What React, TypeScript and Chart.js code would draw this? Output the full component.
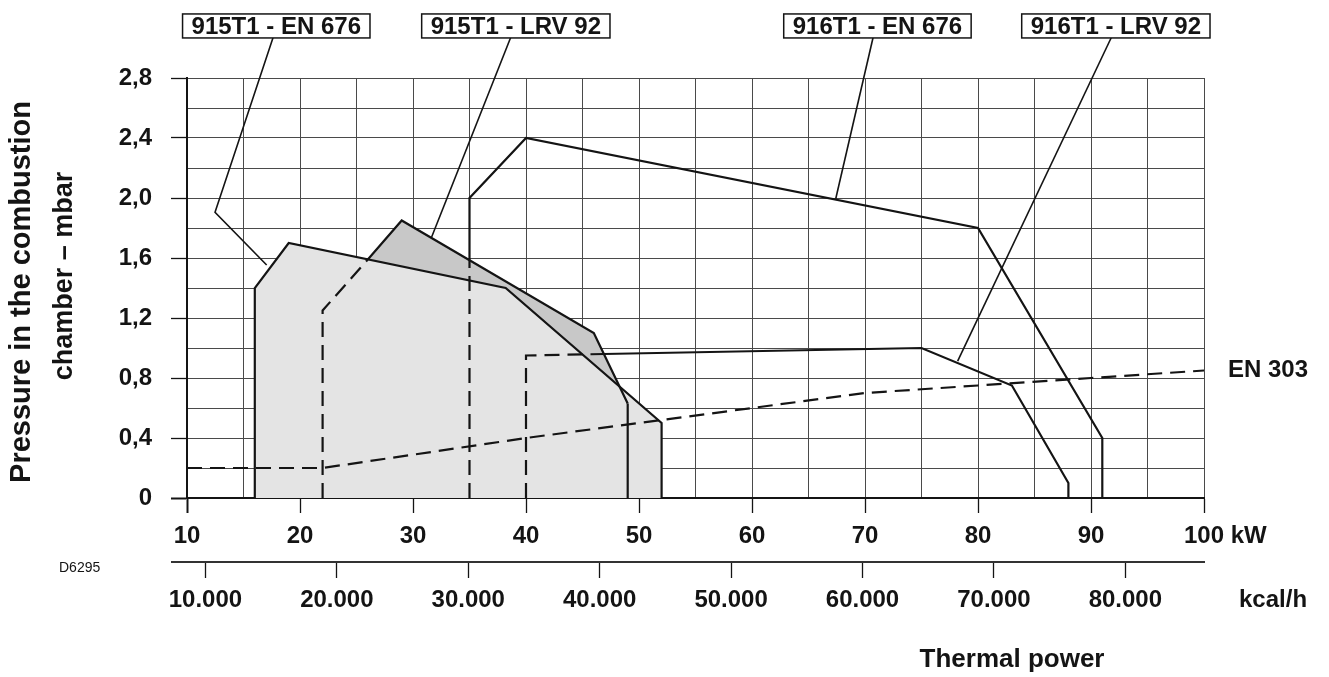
import React, { useEffect, useRef } from 'react';
import { Chart, registerables } from 'chart.js';

Chart.register(...registerables);

// ---------- data (kW on x, mbar on y) ----------
const KW_915_EN676 = [16, 16, 19, 38.2, 52, 52];
const P_915_EN676 = [0, 1.4, 1.7, 1.4, 0.5, 0];

const KW_915_LRV92 = [22, 22, 26, 29, 46, 49, 49];
const P_915_LRV92 = [0, 1.25, 1.59, 1.85, 1.1, 0.63, 0];
const DASH_915_LRV92 = [0, 1, 5];

const KW_916_EN676 = [35, 35, 35, 40, 80, 91, 91];
const P_916_EN676 = [0, 1.585, 2.0, 2.4, 1.8, 0.4, 0];
const DASH_916_EN676 = [0];

const KW_916_LRV92 = [40, 40, 46.9, 75, 83, 88, 88];
const P_916_LRV92 = [0, 0.95, 0.96, 1.0, 0.75, 0.1, 0];
const DASH_916_LRV92 = [0, 1];

const KW_EN303 = [10, 22, 40, 52, 70, 80, 90, 100];
const P_EN303 = [0.2, 0.2, 0.4, 0.52, 0.7, 0.75, 0.8, 0.85];

// curve labels (boxes above the plot) and their leader lines
const CURVE_LABELS = ['915T1 - EN 676', '915T1 - LRV 92', '916T1 - EN 676', '916T1 - LRV 92'];
const LABEL_KW = [17.9, 39.1, 71.1, 92.2];
const LABEL_P = [3.147, 3.147, 3.147, 3.147];
const LEADER_KW = [[17.64, 12.48, 17.05], [38.67, 31.65], [70.73, 67.41], [91.83, 78.2]];
const LEADER_P = [[3.075, 1.905, 1.553], [3.075, 1.74], [3.075, 1.995], [3.075, 0.913]];

// ticks
const KW_TICK_LABELS = ['10', '20', '30', '40', '50', '60', '70', '80', '90', '100'];
const P_TICK_LABELS = ['0', '0,4', '0,8', '1,2', '1,6', '2,0', '2,4', '2,8'];
const KCAL_TICK_VALUES = [10000, 20000, 30000, 40000, 50000, 60000, 70000, 80000];
const KCAL_TICK_LABELS = ['10.000', '20.000', '30.000', '40.000', '50.000', '60.000', '70.000', '80.000'];
const KCAL_PER_KW = 859.845;

const Y_TITLE = ['Pressure in the combustion', 'chamber \u2013 mbar'];
const X_TITLE = 'Thermal power';
const EN303_LABEL = 'EN 303';
const DRAWING_CODE = 'D6295';

// ---------- style ----------
const FAMILY = '"Liberation Sans", Arial, Helvetica, sans-serif';
const INK = '#141414';
const GRID = '#4a4a4a';
const TICK_FONT = { family: FAMILY, size: 24, weight: 'bold' as const };
const DASH = [15, 8];

const pts = (xs: number[], ys: number[]) => xs.map((x, i) => ({ x, y: ys[i] }));
const dashSeg = (idx: number[]) => (c: any) => (idx.includes(c.p0DataIndex) ? DASH : undefined);

const overlay = {
  id: 'overlay',
  afterDraw(chart: any) {
    const { ctx, chartArea, scales } = chart;
    const x = scales.x;
    const y = scales.y;
    const x2 = scales.x2;
    ctx.save();

    // kcal axis line extension to the left
    ctx.strokeStyle = '#333';
    ctx.lineWidth = 2;
    ctx.beginPath();
    ctx.moveTo(chartArea.left - 16, x2.top);
    ctx.lineTo(chartArea.left, x2.top);
    ctx.stroke();

    // label boxes
    ctx.font = `bold 24px ${FAMILY}`;
    ctx.textAlign = 'center';
    ctx.textBaseline = 'middle';
    CURVE_LABELS.forEach((t, i) => {
      const cx = x.getPixelForValue(LABEL_KW[i]);
      const cy = y.getPixelForValue(LABEL_P[i]);
      const w = ctx.measureText(t).width + 18;
      const h = 24;
      ctx.fillStyle = '#fff';
      ctx.fillRect(cx - w / 2, cy - h / 2, w, h);
      ctx.lineWidth = 1.5;
      ctx.strokeStyle = INK;
      ctx.strokeRect(cx - w / 2, cy - h / 2, w, h);
      ctx.fillStyle = INK;
      ctx.fillText(t, cx, cy + 1);
    });

    // y title (two lines, rotated)
    const yMid = (chartArea.top + chartArea.bottom) / 2;
    ctx.save();
    ctx.translate(22, yMid + 4);
    ctx.rotate(-Math.PI / 2);
    ctx.font = `bold 29px ${FAMILY}`;
    ctx.fillText(Y_TITLE[0], 0, 0);
    ctx.restore();
    ctx.save();
    ctx.translate(65, yMid - 12);
    ctx.rotate(-Math.PI / 2);
    ctx.font = `bold 27px ${FAMILY}`;
    ctx.fillText(Y_TITLE[1], 0, 0);
    ctx.restore();

    // EN 303 label
    ctx.font = `bold 24px ${FAMILY}`;
    ctx.textAlign = 'left';
    ctx.fillText(EN303_LABEL, x.getPixelForValue(KW_EN303[KW_EN303.length - 1]) + 24,
      y.getPixelForValue(P_EN303[P_EN303.length - 1]));

    // kW unit after the 100 label
    const kwY = x.top + 15 + 9 + 14.4;
    const lastX = x.getPixelForValue(100);
    ctx.fillText('kW', lastX + ctx.measureText('100').width / 2 + ctx.measureText(' ').width, kwY);

    // kcal/h unit
    const kcalY = x2.top + 16 + 8 + 14.4;
    ctx.fillText('kcal/h', lastX + 35, kcalY);

    // x title
    ctx.font = `bold 26px ${FAMILY}`;
    ctx.textAlign = 'center';
    ctx.fillText(X_TITLE, chartArea.right - 192, x2.top + 98);

    // drawing code
    ctx.font = `14px ${FAMILY}`;
    ctx.textAlign = 'left';
    ctx.fillText(DRAWING_CODE, chartArea.left - 128, x2.top + 6);

    ctx.restore();
  },
};

export default function App() {
  const ref = useRef<HTMLCanvasElement>(null);
  useEffect(() => {
    const lineBase = {
      type: 'line' as const,
      xAxisID: 'x',
      yAxisID: 'y',
      borderColor: INK,
      borderWidth: 2.2,
      pointRadius: 0,
      fill: false,
      tension: 0,
      order: 1,
    };
    const datasets: any[] = [
      {
        ...lineBase,
        label: 'fill 915T1 LRV 92',
        data: pts(KW_915_LRV92, P_915_LRV92),
        fill: 'origin',
        backgroundColor: '#c8c8c8',
        borderColor: 'transparent',
        order: 10,
      },
      {
        ...lineBase,
        label: 'fill 915T1 EN 676',
        data: pts(KW_915_EN676, P_915_EN676),
        fill: 'origin',
        backgroundColor: '#e4e4e4',
        borderColor: 'transparent',
        order: 9,
      },
      { ...lineBase, label: CURVE_LABELS[0], data: pts(KW_915_EN676, P_915_EN676) },
      { ...lineBase, label: CURVE_LABELS[1], data: pts(KW_915_LRV92, P_915_LRV92), segment: { borderDash: dashSeg(DASH_915_LRV92) } },
      { ...lineBase, label: CURVE_LABELS[2], data: pts(KW_916_EN676, P_916_EN676), segment: { borderDash: dashSeg(DASH_916_EN676) } },
      { ...lineBase, label: CURVE_LABELS[3], data: pts(KW_916_LRV92, P_916_LRV92), segment: { borderDash: dashSeg(DASH_916_LRV92) } },
      { ...lineBase, label: EN303_LABEL, data: pts(KW_EN303, P_EN303), borderDash: DASH },
      ...LEADER_KW.map((xs, i) => ({
        ...lineBase,
        label: 'leader ' + i,
        data: pts(xs, LEADER_P[i]),
        borderWidth: 1.6,
        clip: false,
        order: 0,
      })),
    ];

    const chart = new Chart(ref.current as HTMLCanvasElement, {
      type: 'line',
      data: { datasets },
      plugins: [overlay],
      options: {
        animation: false,
        responsive: true,
        maintainAspectRatio: false,
        events: [],
        layout: { padding: { top: 78, right: 125, left: 0, bottom: 0 } },
        plugins: { legend: { display: false }, tooltip: { enabled: false } },
        scales: {
          x: {
            type: 'linear',
            position: 'bottom',
            min: 10,
            max: 100,
            z: 1,
            weight: 0,
            afterFit: (s: any) => { s.height = 64; },
            border: { display: true, color: INK, width: 2 },
            grid: {
              color: GRID,
              lineWidth: 1,
              tickLength: 15,
              tickColor: (c: any) => (c.tick && c.tick.value % 10 === 0 ? INK : 'transparent'),
              tickWidth: (c: any) => (c.tick && c.tick.value === 10 ? 2 : 1.3),
            },
            ticks: {
              stepSize: 5,
              autoSkip: false,
              maxRotation: 0,
              minRotation: 0,
              padding: 9,
              color: INK,
              font: TICK_FONT,
              callback: (v: any) => {
                const n = Number(v);
                return n % 10 === 0 ? KW_TICK_LABELS[Math.round((n - 10) / 10)] : '';
              },
            },
          },
          x2: {
            type: 'linear',
            position: 'bottom',
            bounds: 'data',
            min: 10 * KCAL_PER_KW,
            max: 100 * KCAL_PER_KW,
            weight: 1,
            afterBuildTicks: (s: any) => { s.ticks = KCAL_TICK_VALUES.map((value) => ({ value })); },
            afterFit: (s: any) => { s.height = 115; },
            border: { display: true, color: '#333', width: 2 },
            grid: {
              drawOnChartArea: false,
              drawTicks: true,
              tickLength: 16,
              tickColor: INK,
              tickWidth: 1.3,
            },
            ticks: {
              autoSkip: false,
              maxRotation: 0,
              minRotation: 0,
              padding: 8,
              color: INK,
              font: TICK_FONT,
              callback: (v: any) => KCAL_TICK_LABELS[KCAL_TICK_VALUES.indexOf(Number(v))] ?? '',
            },
          },
          y: {
            type: 'linear',
            position: 'left',
            min: 0,
            max: 2.8,
            z: 1,
            afterFit: (s: any) => { s.width = 187; },
            border: { display: true, color: INK, width: 2 },
            grid: {
              color: GRID,
              lineWidth: 1,
              tickLength: 16,
              tickColor: (c: any) => (c.tick && Math.round(c.tick.value * 10) % 4 === 0 ? INK : 'transparent'),
              tickWidth: (c: any) => (c.tick && c.tick.value === 0 ? 2 : 1.3),
            },
            ticks: {
              stepSize: 0.2,
              autoSkip: false,
              padding: 19,
              color: INK,
              font: TICK_FONT,
              callback: (v: any) => {
                const k = Math.round(Number(v) * 10);
                return k % 4 === 0 ? P_TICK_LABELS[k / 4] : '';
              },
            },
          },
        },
      } as any,
    });
    return () => chart.destroy();
  }, []);

  return (
    <div style={{ position: 'fixed', left: 0, top: 0, width: 1329, height: 677, background: '#fff' }}>
      <canvas ref={ref} />
    </div>
  );
}
